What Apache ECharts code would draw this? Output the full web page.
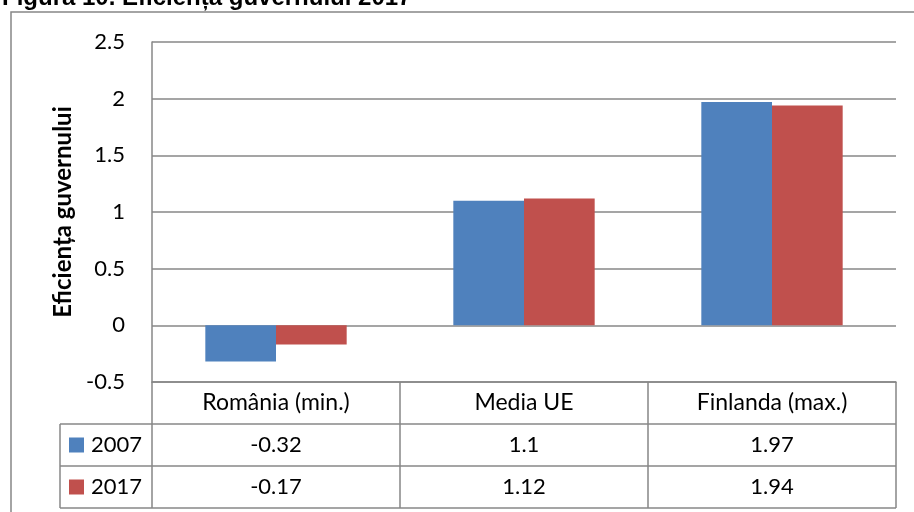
<!DOCTYPE html>
<html>
<head>
<meta charset="utf-8">
<script src="https://cdn.jsdelivr.net/npm/echarts@6/dist/echarts.min.js"></script>
<style>
html, body { margin: 0; padding: 0; background: #fff; }
#chart { width: 914px; height: 512px; }
</style>
</head>
<body>
<div id="chart"></div>
<script>
//categorii
var categories = ['România (min.)', 'Media UE', 'Finlanda (max.)'];
//serii
var seriesNames = ['2007', '2017'];
var values2007 = [-0.32, 1.1, 1.97];
var values2017 = [-0.17, 1.12, 1.94];
var seriesColors = ['#4F81BD', '#C0504D'];

//dimensiuni grafic
var gridLeft = 152, gridRight = 18, gridTop = 42, gridBottom = 130;
var rowH = 42;
var tableLeft = 60;
var lineColor = '#878787';
var fontName = 'Lato';

var chart = echarts.init(document.getElementById('chart'));
var plotBottom = 512 - gridBottom;
var plotRight = 914 - gridRight;

//axa x pentru fiecare rand din tabel
function rowAxis(labels, offset) {
	return {
		type: 'category',
		data: labels,
		position: 'bottom',
		offset: offset,
		axisLine: { show: false, onZero: false },
		axisTick: { show: false },
		splitLine: { show: false },
		axisLabel: {
			margin: 10,
			fontFamily: fontName,
			fontSize: 22,
			lineHeight: 22,
			color: '#000',
			verticalAlign: 'top'
		}
	};
}

//linii orizontale ale tabelului
var tableLines = [];
for (var i = 1; i <= 3; i++) {
	tableLines.push({
		type: 'line',
		shape: { x1: tableLeft, y1: plotBottom + rowH * i, x2: plotRight, y2: plotBottom + rowH * i },
		style: { stroke: lineColor, lineWidth: 1.5 }
	});
}
tableLines.push({
	type: 'line',
	shape: { x1: tableLeft, y1: plotBottom + rowH, x2: tableLeft, y2: plotBottom + rowH * 3 },
	style: { stroke: lineColor, lineWidth: 1.5 }
});

var option = {
	backgroundColor: '#fff',
	animation: false,
	grid: { left: gridLeft, right: gridRight, top: gridTop, bottom: gridBottom },
	legend: {
		data: seriesNames,
		orient: 'vertical',
		left: 69,
		top: plotBottom + rowH + 10,
		padding: 0,
		itemGap: 20,
		itemWidth: 15,
		itemHeight: 15,
		icon: 'rect',
		textStyle: { fontFamily: fontName, fontSize: 22, lineHeight: 22, color: '#000', padding: [0, 0, 0, 2] }
	},
	graphic: [
		{
			type: 'rect',
			shape: { x: 11, y: 12, width: 1000, height: 1000 },
			style: { fill: null, stroke: lineColor, lineWidth: 1.5 },
			z: 0
		},
		{
			type: 'text',
			x: 2,
			y: 10,
			style: {
				text: 'Figura 10. Eficiența guvernului 2017',
				font: 'bold 24px "Liberation Sans", Arial, sans-serif',
				fill: '#000',
				verticalAlign: 'bottom'
			}
		}
	].concat(tableLines),
	xAxis: [
		{
			type: 'category',
			data: categories,
			position: 'bottom',
			axisLine: { show: true, onZero: false, lineStyle: { color: lineColor, width: 1.5 } },
			axisTick: { show: true, alignWithLabel: false, interval: 0, length: rowH * 3, lineStyle: { color: lineColor, width: 1.5 } },
			splitLine: { show: false },
			axisLabel: {
				margin: 9,
				fontFamily: fontName,
				fontSize: 23,
				lineHeight: 24,
				color: '#000',
				verticalAlign: 'top'
			}
		},
		rowAxis(values2007.map(String), rowH),
		rowAxis(values2017.map(String), rowH * 2)
	],
	yAxis: {
		type: 'value',
		min: -0.5,
		max: 2.5,
		interval: 0.5,
		name: 'Eficiența guvernului',
		nameLocation: 'middle',
		nameGap: 77,
		nameTextStyle: { fontFamily: fontName, fontSize: 24, fontWeight: 'bold', color: '#000' },
		axisLine: { show: true, lineStyle: { color: lineColor, width: 1.5 } },
		axisTick: { show: false },
		splitLine: { show: true, lineStyle: { color: lineColor, width: 1.5 } },
		axisLabel: { margin: 27, fontFamily: fontName, fontSize: 22, color: '#000' }
	},
	series: [
		{
			name: seriesNames[0],
			type: 'bar',
			data: values2007,
			itemStyle: { color: seriesColors[0] },
			barGap: 0,
			barCategoryGap: '43%'
		},
		{
			name: seriesNames[1],
			type: 'bar',
			data: values2017,
			itemStyle: { color: seriesColors[1] },
			barGap: 0,
			barCategoryGap: '43%'
		}
	]
};
chart.setOption(option);
</script>
</body>
</html>
